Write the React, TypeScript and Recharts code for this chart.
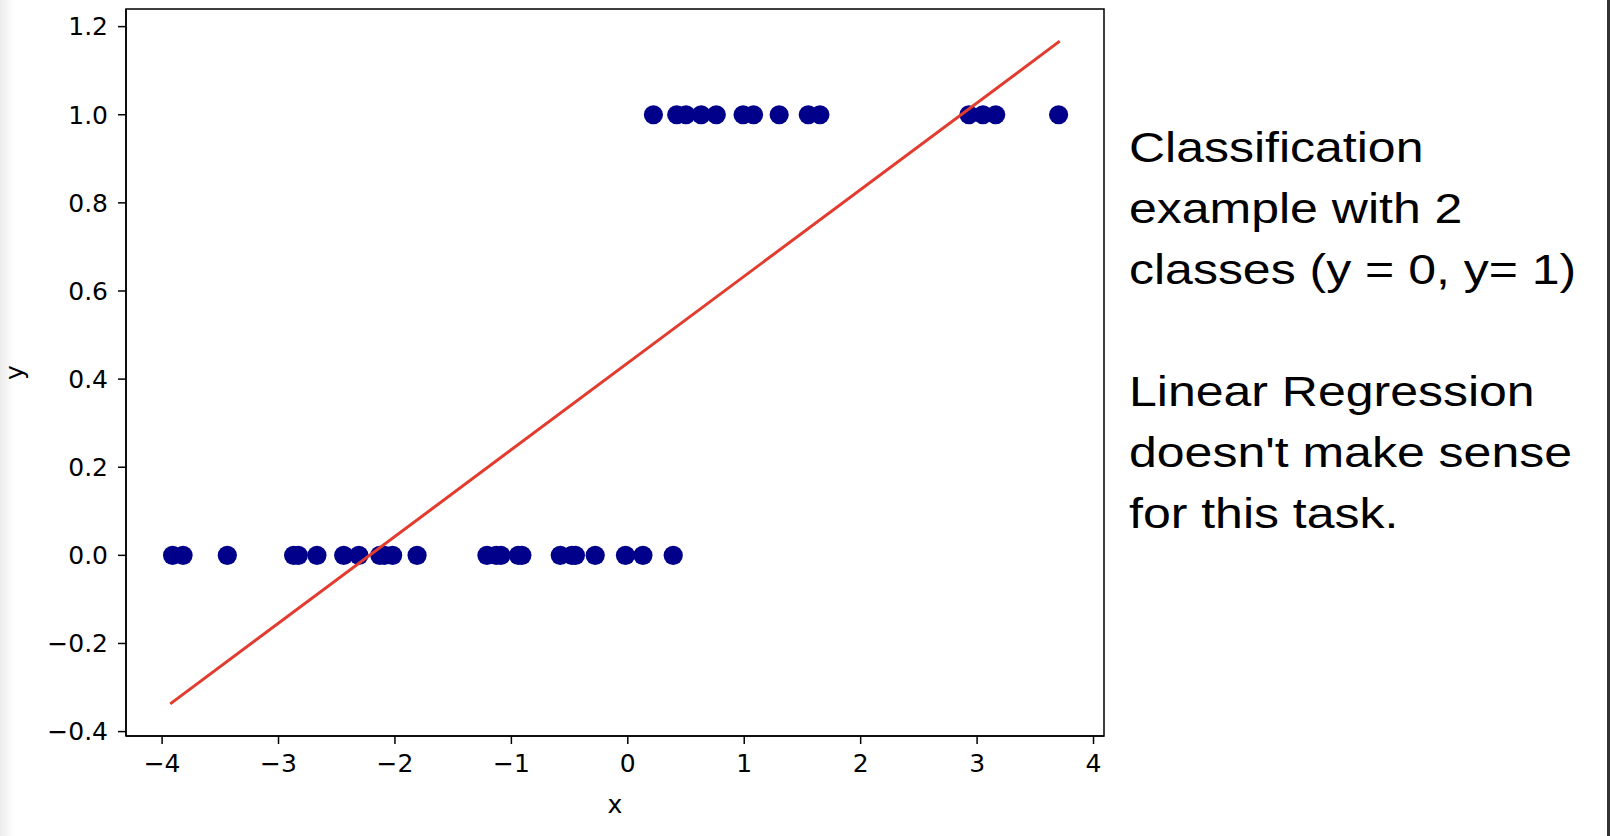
import React from "react";
import { ComposedChart, Scatter, XAxis, YAxis, ReferenceArea } from "recharts";

// class 0 samples (y = 0) and class 1 samples (y = 1), x positions
const class0X = [
  -3.91, -3.82, -3.44, -2.87, -2.83, -2.67, -2.44, -2.31, -2.13, -2.09, -2.02,
  -1.81, -1.21, -1.13, -1.09, -0.94, -0.91, -0.58, -0.48, -0.45, -0.28, -0.02,
  0.13, 0.39,
];
const class1X = [
  0.22, 0.42, 0.5, 0.63, 0.76, 0.99, 1.08, 1.3, 1.55, 1.65, 2.93, 3.05, 3.16,
  3.7,
];

// least squares fit drawn between the extreme x values
const fitX = [-3.93, 3.71];
const fitY = [-0.337, 1.167];

const xTicks = [-4, -3, -2, -1, 0, 1, 2, 3, 4];
const yTicks = [-0.4, -0.2, 0, 0.2, 0.4, 0.6, 0.8, 1.0, 1.2];
const xDomain = [-4.31, 4.09];
const yDomain = [-0.41, 1.24];

const noteLines = [
  "Classification",
  "example with 2",
  "classes (y = 0, y= 1)",
  "",
  "Linear Regression",
  "doesn't make sense",
  "for this task.",
];

const points = [
  ...class0X.map((x) => ({ x, y: 0 })),
  ...class1X.map((x) => ({ x, y: 1 })),
];
const fitLine = fitX.map((x, i) => ({ x, y: fitY[i] }));

const tickFont = { fontFamily: "DejaVu Sans", fontSize: 25, fill: "#000" };
const minus = (s: string) => s.replace("-", "\u2212");

const Dot = (props: any) => (
  <circle cx={props.cx} cy={props.cy} r={9.6} fill="#00008b" />
);

const App = () => {
  return (
    <div
      style={{
        position: "absolute",
        left: 0,
        top: 0,
        width: 1610,
        height: 836,
        background: "#fff",
        overflow: "hidden",
      }}
    >
      <div
        style={{
          position: "absolute",
          left: 0,
          top: 0,
          width: 14,
          height: 836,
          background: "linear-gradient(to right, #ececec, #fff)",
        }}
      />
      <div
        style={{
          position: "absolute",
          left: 1607,
          top: 0,
          width: 3,
          height: 836,
          background: "#333",
        }}
      />
      <ComposedChart
        width={1120}
        height={836}
        margin={{ top: 9, right: 16, bottom: 20, left: 0 }}
        style={{ position: "absolute", left: 0, top: 0 }}
      >
        <XAxis
          dataKey="x"
          type="number"
          domain={xDomain}
          ticks={xTicks}
          tickFormatter={(v) => minus(String(v))}
          tick={tickFont}
          tickSize={8}
          tickMargin={10}
          height={80}
          stroke="#000"
          strokeWidth={1.5}
          label={{
            value: "x",
            position: "insideBottom",
            offset: 3,
            style: tickFont,
          }}
        />
        <YAxis
          dataKey="y"
          type="number"
          domain={yDomain}
          ticks={yTicks}
          tickFormatter={(v) => minus(Number(v).toFixed(1))}
          tick={tickFont}
          tickSize={8}
          tickMargin={10}
          width={126}
          stroke="#000"
          strokeWidth={1.5}
          label={({ viewBox }: any) => {
            const cx = viewBox.x + 23;
            const cy = viewBox.y + viewBox.height / 2;
            return (
              <text
                x={cx}
                y={cy}
                transform={`rotate(-90, ${cx}, ${cy})`}
                textAnchor="middle"
                {...tickFont}
              >
                y
              </text>
            );
          }}
        />
        {/* matplotlib style frame round the plot */}
        <ReferenceArea
          x1={xDomain[0]}
          x2={xDomain[1]}
          y1={yDomain[0]}
          y2={yDomain[1]}
          fill="none"
          stroke="#000"
          strokeWidth={1.5}
          strokeOpacity={1}
        />
        <Scatter data={points} shape={Dot} isAnimationActive={false} />
        <Scatter
          data={fitLine}
          line={{ stroke: "#e33b2e", strokeWidth: 3 }}
          shape={() => <g />}
          isAnimationActive={false}
        />
      </ComposedChart>
      <div
        style={{
          position: "absolute",
          left: 1129,
          top: 117,
          fontFamily: "'Liberation Sans', Arial, sans-serif",
          fontSize: 42,
          lineHeight: "61px",
          color: "#000",
          whiteSpace: "pre",
          transform: "scaleX(1.19)",
          transformOrigin: "left top",
        }}
      >
        {noteLines.map((t, i) => (
          <div key={i}>{t || "\u00a0"}</div>
        ))}
      </div>
    </div>
  );
};

export default App;
